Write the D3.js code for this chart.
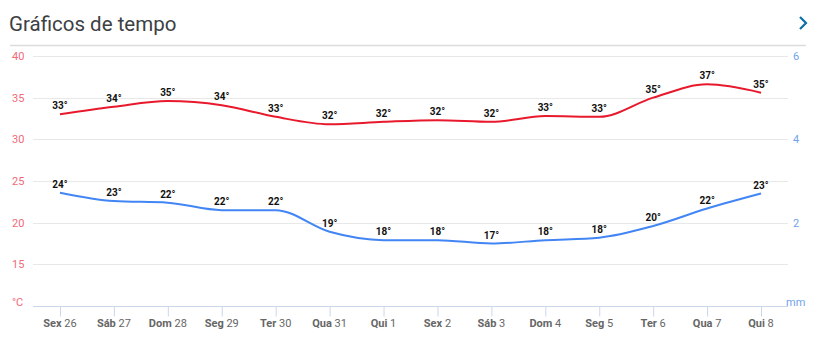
<!DOCTYPE html>
<html><head><meta charset="utf-8">
<script src="https://cdn.jsdelivr.net/npm/d3@7"></script>
<style>
html,body{margin:0;padding:0;background:#fff;}
svg{display:block;font-family:Roboto,"Noto Sans",sans-serif;}
</style></head>
<body>
<svg id="chart" width="825" height="341"></svg>
<script>
const days = ["Sex 26","Sáb 27","Dom 28","Seg 29","Ter 30","Qua 31","Qui 1","Sex 2","Sáb 3","Dom 4","Seg 5","Ter 6","Qua 7","Qui 8"];
const maxTemp = [33.0,33.9,34.6,34.1,32.7,31.8,32.1,32.3,32.1,32.8,32.7,35.0,36.6,35.6];
const maxLabels = [33,34,35,34,33,32,32,32,32,33,33,35,37,35];
const minTemp = [23.6,22.6,22.4,21.5,21.5,18.9,17.9,17.9,17.5,17.9,18.2,19.6,21.7,23.5];
const minLabels = [24,23,22,22,22,19,18,18,17,18,18,20,22,23];
const leftTicks = [15,20,25,30,35,40];
const rightTicks = [2,4,6];

const svg = d3.select("#chart");
const L = 33, R = 788, T = 56, B = 306;

svg.append("text").attr("x",9).attr("y",31).attr("font-size",20.5).attr("fill","#3c4043").text("Gráficos de tempo");
svg.append("line").attr("x1",10).attr("x2",806).attr("y1",45.5).attr("y2",45.5).attr("stroke","#dcdcdc").attr("stroke-width",1.5);
svg.append("path").attr("d","M800,17 L806,23 L800,29").attr("fill","none").attr("stroke","#0b6fa8").attr("stroke-width",2.2);

const x = d3.scalePoint().domain(days).range([L,R]).padding(0.5);
const y = d3.scaleLinear().domain([10,40]).range([B,T]);
const y2 = d3.scaleLinear().domain([0,6]).range([B,T]);

// grid
svg.append("g").selectAll("line").data(leftTicks).join("line")
  .attr("x1",L).attr("x2",R).attr("y1",d=>Math.round(y(d))+0.5).attr("y2",d=>Math.round(y(d))+0.5)
  .attr("stroke","#e8e8e8").attr("stroke-width",1);

// left labels
svg.append("g").selectAll("text").data(leftTicks).join("text")
  .attr("x",12).attr("y",d=>y(d)+4).attr("font-size",11).attr("fill","#f2697a").text(d=>d);
svg.append("text").attr("x",12).attr("y",y(10)+0).attr("font-size",11).attr("fill","#f2697a").text("°C");

// right labels
svg.append("g").selectAll("text").data(rightTicks).join("text")
  .attr("x",793).attr("y",d=>y2(d)+4).attr("font-size",11).attr("fill","#6fa3ee").text(d=>d);
svg.append("text").attr("x",786).attr("y",y2(0)+0).attr("font-size",11).attr("fill","#6fa3ee").text("mm");

// x axis
const xAxis = d3.axisBottom(x).tickSize(10).tickFormat("");
const ag = svg.append("g").attr("transform",`translate(0,${B+0.5})`).call(xAxis);
ag.select(".domain").attr("stroke","#ccd6eb").attr("d",`M${L},0H${R}`);
ag.selectAll(".tick line").attr("stroke","#ccd6eb");
const lbl = svg.append("g").selectAll("text").data(days).join("text")
  .attr("x",d=>x(d)).attr("y",327).attr("text-anchor","middle").attr("font-size",11).attr("fill","#666");
lbl.append("tspan").attr("font-weight","bold").text(d=>d.split(" ")[0]);
lbl.append("tspan").text(d=>" "+d.split(" ")[1]);

// lines
const line = (vals)=> d3.line().x((d,i)=>x(days[i])).y(d=>y(d)).curve(d3.curveMonotoneX)(vals);
svg.append("path").attr("d",line(maxTemp)).attr("fill","none").attr("stroke","#e8192c").attr("stroke-width",2);
svg.append("path").attr("d",line(minTemp)).attr("fill","none").attr("stroke","#4285f4").attr("stroke-width",2);

// data labels
function labels(vals, labs){
  svg.append("g").selectAll("text").data(vals).join("text")
    .attr("x",(d,i)=>x(days[i])).attr("y",d=>y(d)-5).attr("text-anchor","middle")
    .attr("font-size",10).attr("font-weight","bold").attr("fill","#111")
    .attr("stroke","#fff").attr("stroke-width",2).attr("paint-order","stroke").attr("stroke-linejoin","round")
    .text((d,i)=>labs[i]+"°");
}
labels(maxTemp,maxLabels);
labels(minTemp,minLabels);
</script>
</body></html>
